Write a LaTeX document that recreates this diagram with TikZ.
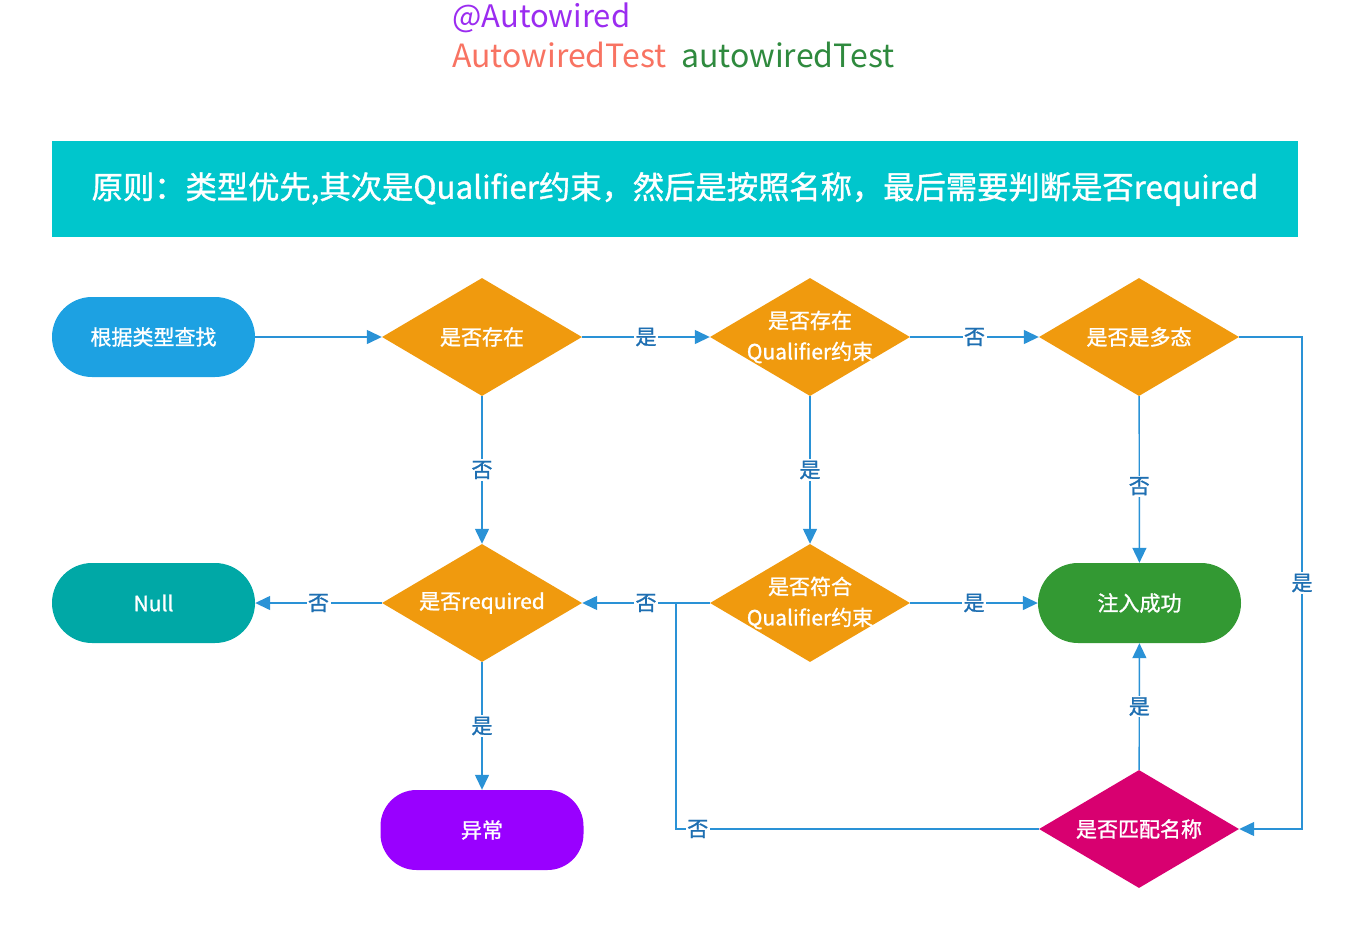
\documentclass[tikz,border=0pt]{standalone}
\usepackage{fontspec}
\setmainfont{Noto Sans CJK SC}
\newfontfamily\medfont[FakeBold=1.2]{Noto Sans CJK SC}
\usetikzlibrary{shapes.geometric,arrows.meta}
\definecolor{cpurple}{HTML}{9B2CF0}
\definecolor{csalmon}{HTML}{F87362}
\definecolor{cgreentxt}{HTML}{2F8A3E}
\definecolor{ctitle}{HTML}{00C6CC}
\definecolor{cstart}{HTML}{1DA1E2}
\definecolor{cnull}{HTML}{00A8A6}
\definecolor{csucc}{HTML}{339933}
\definecolor{cexc}{HTML}{9900FF}
\definecolor{cmag}{HTML}{D80070}
\definecolor{corange}{HTML}{F09A0E}
\definecolor{cline}{HTML}{2A92D6}
\definecolor{clbl}{HTML}{1E6FB2}
\begin{document}
\begin{tikzpicture}[x=1pt,y=-1pt,
  dia/.style={diamond,fill=corange,minimum width=200pt,minimum height=118pt,inner sep=0pt,aspect=1.7},
  dtext/.style={text=white,font=\medfont\fontsize{21pt}{31pt}\selectfont,align=center,inner sep=0pt},
  term/.style={rectangle,rounded corners=40pt,minimum width=203pt,minimum height=80pt,inner sep=0pt,text=white,font=\medfont\fontsize{21pt}{26pt}\selectfont},
  arr/.style={draw=cline,line width=1.4pt,-{Triangle[length=15pt,width=14pt]},color=cline},
  conn/.style={draw=cline,line width=1.4pt},
  lbl/.style={fill=white,text=clbl,font=\medfont\fontsize{21pt}{24pt}\selectfont,inner sep=1.5pt}
]
\useasboundingbox (0,0) rectangle (1372,928);
% header texts
\node[anchor=base west,inner sep=0pt,text=cpurple,font=\fontsize{31pt}{36pt}\selectfont] (h1) at (452,28) {@Autowired};
\node[anchor=base west,inner sep=0pt,text=csalmon,font=\fontsize{32pt}{36pt}\selectfont] (h2) at (452,68) {AutowiredTest};
\node[anchor=base west,inner sep=0pt,text=cgreentxt,font=\fontsize{32pt}{36pt}\selectfont] (h3) at (681,68) {autowiredTest};
% title bar
\node[fill=ctitle,minimum width=1246pt,minimum height=96pt,inner sep=0pt,text=white,font=\medfont\fontsize{31.3pt}{36pt}\selectfont] (title) at (675,189) {原则：类型优先,其次是Qualifier约束，然后是按照名称，最后需要判断是否required};
% nodes
\node[term,fill=cstart] (start) at (153.5,337) {根据类型查找};
\node[dia] (d1) at (482,337) {};
\node[dtext] at (d1) {是否存在};
\node[dia] (d2) at (810,337) {};
\node[dtext] at (d2) {是否存在\\Qualifier约束};
\node[dia] (d3) at (1139,337) {};
\node[dtext] at (d3) {是否是多态};
\node[term,fill=cnull] (null) at (153.5,603) {Null};
\node[dia] (d4) at (482,603) {};
\node[dtext] at (d4) {是否required};
\node[dia] (d5) at (810,603) {};
\node[dtext] at (d5) {是否符合\\Qualifier约束};
\node[term,fill=csucc] (succ) at (1139.5,603) {注入成功};
\node[term,fill=cexc,rounded corners=36pt] (exc) at (482,830) {异常};
\node[dia,fill=cmag] (d6) at (1139,829) {};
\node[dtext] at (d6) {是否匹配名称};
\coordinate (rx) at (1302,0);
\coordinate (lx) at (676,0);
% connectors
\draw[arr] (start) -- (d1);
\draw[arr] (d1) -- node[lbl]{是} (d2);
\draw[arr] (d2) -- node[lbl]{否} (d3);
\draw[arr] (d1) -- node[lbl]{否} (d4);
\draw[arr] (d2) -- node[lbl]{是} (d5);
\draw[arr] (d3) -- node[lbl,pos=0.54]{否} (succ);
\draw[arr] (d3.east) -- (d3.east -| rx) -- node[lbl]{是} (d6.east -| rx) -- (d6.east);
\draw[arr] (d4) -- node[lbl]{否} (null);
\draw[arr] (d5) -- node[lbl]{否} (d4);
\draw[arr] (d4) -- node[lbl]{是} (exc);
\draw[arr] (d5) -- node[lbl]{是} (succ);
\draw[arr] (d6) -- node[lbl]{是} (succ);
\draw[conn] (d6.west) -- node[lbl,pos=0.94]{否} (d6.west -| lx) -- (lx |- d5.west);
\end{tikzpicture}
\end{document}
